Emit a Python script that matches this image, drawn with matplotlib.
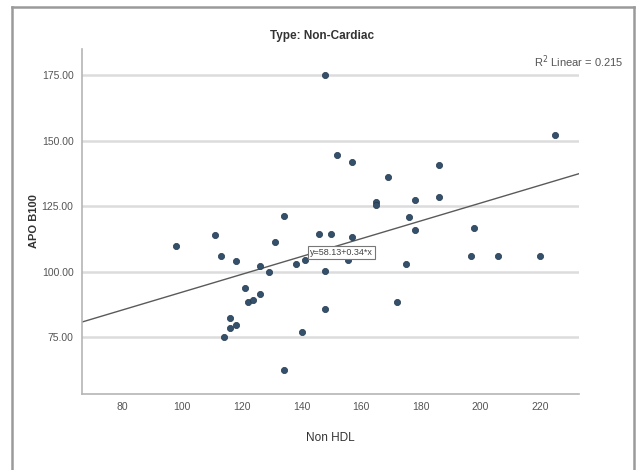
import numpy as np
import matplotlib.pyplot as plt
from matplotlib.lines import Line2D

plt.rcParams['font.family'] = ['Liberation Sans Narrow', 'Liberation Sans', 'DejaVu Sans']

# ── Data ──────────────────────────────────────────────────────────────────────
non_hdl = [148, 225, 152, 157, 186, 169, 186, 165, 165, 178,
           134, 176, 178, 198, 111, 146, 150, 157, 131, 98,
           113, 118, 153.5, 155.7, 138, 141, 126, 129, 148, 197,
           206, 220, 175, 121, 122, 123.6, 126, 172, 148, 116,
           116, 118, 114, 140, 134]
apo_b100 = [175, 152, 144.5, 142, 140.5, 136, 128.5, 126.5, 125.3, 127.2,
            121.2, 120.8, 115.7, 116.6, 113.8, 114.4, 114.4, 113.2, 111.4, 109.6,
            105.8, 103.9, 105.8, 104.5, 103, 104.4, 102.2, 100, 100.3, 105.8,
            105.8, 105.8, 103, 93.8, 88.4, 89.1, 91.3, 88.2, 85.7, 82.1,
            78.6, 79.6, 74.8, 76.8, 62.3]

intercept = 58.13
slope = 0.34
r2 = 0.215

x_ticks = [80, 100, 120, 140, 160, 180, 200, 220]
y_ticks = [75, 100, 125, 150, 175]

# ── Figure ────────────────────────────────────────────────────────────────────
fig = plt.figure(figsize=(6.41, 4.70), dpi=100)
fig.patch.set_facecolor('white')

# outer frame (left, top, right)
frame_col = '#9a9a9a'
fig.add_artist(Line2D([12 / 641, 12 / 641], [0, 1 - 7 / 470], color=frame_col, lw=1.8))
fig.add_artist(Line2D([12 / 641, 634 / 641], [1 - 7 / 470, 1 - 7 / 470], color=frame_col, lw=1.8))
fig.add_artist(Line2D([634 / 641, 634 / 641], [0, 1 - 7 / 470], color=frame_col, lw=1.8))

ax = fig.add_axes([0.1276, 0.1617, 0.9025 - 0.1276, 0.8957 - 0.1617])
ax.set_xlim(66.3, 232.9)
ax.set_ylim(53.2, 185)

for yv in y_ticks:
    ax.axhline(yv, color='#dcdcdc', lw=1.8, zorder=0)

# fit line
xl = np.array(ax.get_xlim())
ax.plot(xl, intercept + slope * xl, color='#5a5a5a', lw=1.0, zorder=2)

ax.scatter(non_hdl, apo_b100, s=20, color='#34506b', edgecolors='#22384e',
           linewidths=0.5, zorder=3)

ax.text(153.5, 107.2, f'y={intercept:.2f}+{slope:.2f}*x', fontsize=6.5, color='#444444',
        ha='center', va='center', zorder=4,
        bbox=dict(boxstyle='square,pad=0.25', fc='white', ec='#777777', lw=0.8))

ax.set_xticks(x_ticks)
ax.set_yticks(y_ticks)
ax.set_yticklabels([f'{v:.2f}' for v in y_ticks])
ax.tick_params(length=0, labelsize=7.5, labelcolor='#555555', pad=6)

for s in ['top', 'right']:
    ax.spines[s].set_visible(False)
for s in ['left', 'bottom']:
    ax.spines[s].set_color('#b5b5b5')
    ax.spines[s].set_linewidth(1.2)

ax.set_xlabel('Non HDL', fontsize=8.5, color='#333333', labelpad=14)
ax.set_ylabel('APO B100', fontsize=8, color='#333333', fontweight='semibold', labelpad=2)

fig.text(322 / 641, 1 - 36 / 470, 'Type: Non-Cardiac', fontsize=8.5, color='#333333',
         fontweight='bold', ha='center', va='center')
fig.text(623 / 641, 1 - 62 / 470, f'R$^2$ Linear = {r2:.3f}', fontsize=8,
         color='#555555', ha='right', va='center')

fig.savefig('out.png', dpi=100, facecolor='white')
